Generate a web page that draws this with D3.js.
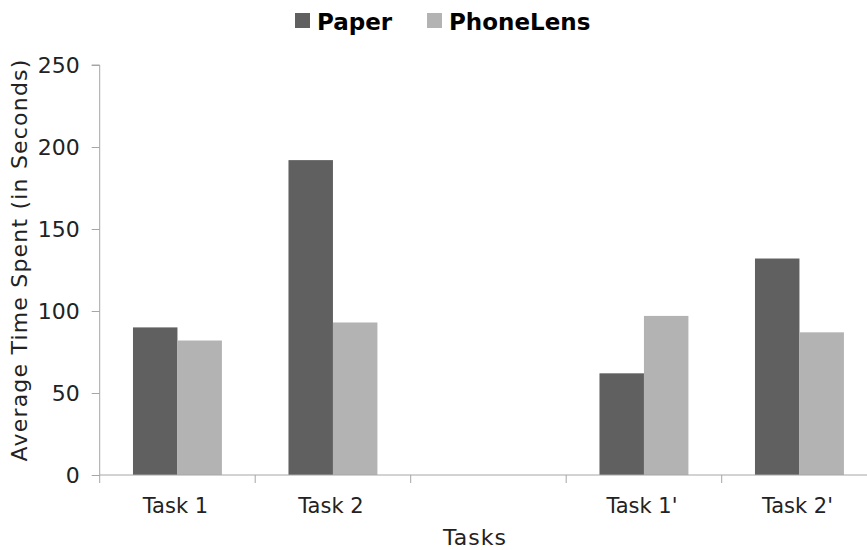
<!DOCTYPE html>
<html><head><meta charset="utf-8">
<script src="https://cdn.jsdelivr.net/npm/d3@7"></script>
<style>body{margin:0;background:#fff}svg{display:block}text{font-family:"DejaVu Sans",sans-serif}</style>
</head><body><svg id="c" width="867" height="550"></svg>
<script>
const categories = ["Task 1", "Task 2", "", "Task 1'", "Task 2'"];
const seriesNames = ["Paper", "PhoneLens"];
const paper = [90, 192, null, 62, 132];
const phoneLens = [82, 93, null, 97, 87];
const yTicks = [0, 50, 100, 150, 200, 250];
const colors = ["#606060", "#b3b3b3"];

const svg = d3.select("#c");
const left = 99.7, step = 155.5, y0 = 475, yTop = 65;
const x0 = d3.scaleBand().domain(categories.map((c,i)=>i))
  .range([left, left + step*categories.length]).paddingInner(0.428).paddingOuter(0.214);
const x1 = d3.scaleBand().domain(seriesNames).range([0, x0.bandwidth()]);
const y = d3.scaleLinear().domain([0, 250]).range([y0, yTop]);
const axisColor = "#a6a6a6";

// bars
const data = categories.map((c,i)=>({i, vals:[paper[i], phoneLens[i]]}));
const g = svg.append("g");
data.forEach(d=>{
  d.vals.forEach((v,k)=>{
    if(v==null) return;
    g.append("rect").attr("x", x0(d.i)+x1(seriesNames[k])).attr("width", x1.bandwidth())
      .attr("y", y(v)).attr("height", y0 - y(v)).attr("fill", colors[k]);
  });
});

// y axis
const yAxis = svg.append("g").attr("transform", `translate(${left},0)`)
  .call(d3.axisLeft(y).tickValues(yTicks).tickSize(8).tickPadding(12));
yAxis.select(".domain").attr("stroke", axisColor).attr("d", `M-8,${yTop}H0V${y0}`);
yAxis.selectAll(".tick line").attr("stroke", axisColor);
yAxis.selectAll(".tick text").attr("font-size", 22).attr("fill", "#222")
  .attr("font-family", "DejaVu Sans");

// x axis
const bounds = d3.range(categories.length+1).map(i=>left + i*step);
const xg = svg.append("g");
xg.append("line").attr("x1", left).attr("x2", 867).attr("y1", y0).attr("y2", y0).attr("stroke", axisColor);
xg.selectAll("line.t").data(bounds).join("line").attr("class","t")
  .attr("x1", d=>d).attr("x2", d=>d).attr("y1", y0).attr("y2", y0+8).attr("stroke", axisColor);
xg.selectAll("text").data(categories).join("text")
  .attr("x", (d,i)=>x0(i)+x0.bandwidth()/2 - 2).attr("y", 513)
  .attr("text-anchor","middle").attr("font-size", 21).attr("fill","#222").text(d=>d);

// titles
svg.append("text").attr("x", 475).attr("y", 545).attr("text-anchor","middle")
  .attr("font-size", 22).attr("letter-spacing", 1).attr("fill","#222").text("Tasks");
svg.append("text").attr("transform", "translate(27,260) rotate(-90)").attr("text-anchor","middle")
  .attr("font-size", 22).attr("letter-spacing", 1.2).attr("fill","#222").text("Average Time Spent (in Seconds)");

// legend
const leg = [{x:295, name:seriesNames[0], c:colors[0]},{x:427, name:seriesNames[1], c:colors[1]}];
leg.forEach(l=>{
  svg.append("rect").attr("x", l.x).attr("y", 13).attr("width", 15).attr("height", 15).attr("fill", l.c);
  svg.append("text").attr("x", l.x+22).attr("y", 30).attr("font-size", 23).attr("font-weight","bold")
    .attr("fill","#000").text(l.name);
});
</script></body></html>
